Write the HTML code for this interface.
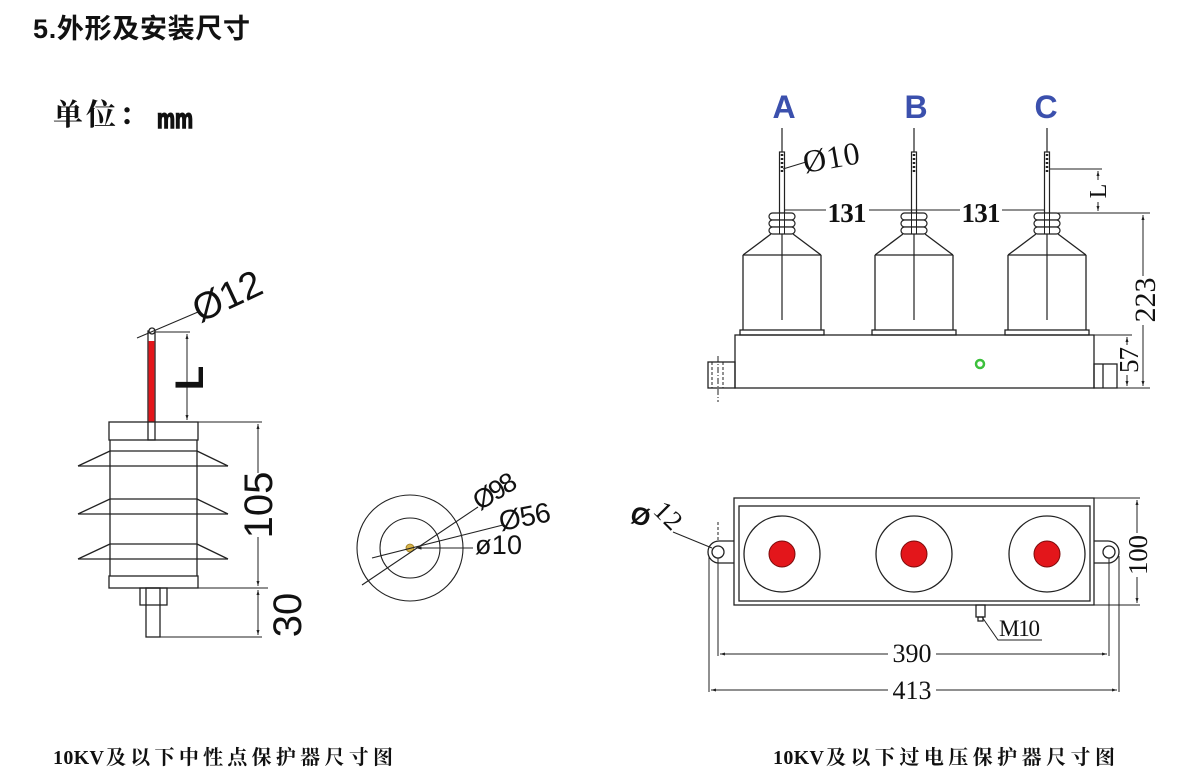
<!DOCTYPE html>
<html><head><meta charset="utf-8">
<style>html,body{margin:0;padding:0;background:#fff}svg{display:block}</style>
</head>
<body>
<svg width="1190" height="781" viewBox="0 0 1190 781" xmlns="http://www.w3.org/2000/svg">
<defs>
<marker id="ar" viewBox="0 0 10 10" refX="10" refY="5" markerWidth="5" markerHeight="5" orient="auto-start-reverse"><path d="M0,2 L10,5 L0,8z" fill="#222"/></marker>
<g id="ph">
  <line x1="0" y1="128" x2="0" y2="152" stroke="#222" stroke-width="1.2"/>
  <rect x="-2.5" y="152" width="5" height="61" fill="#fff" stroke="#222" stroke-width="1.2"/>
  <line x1="0" y1="154" x2="0" y2="172" stroke="#222" stroke-width="2.5" stroke-dasharray="2,2"/>
  <rect x="-13" y="213" width="26" height="7" rx="3.5" fill="#fff" stroke="#222" stroke-width="1.2"/>
  <rect x="-13" y="220" width="26" height="7" rx="3.5" fill="#fff" stroke="#222" stroke-width="1.2"/>
  <rect x="-13" y="227" width="26" height="7" rx="3.5" fill="#fff" stroke="#222" stroke-width="1.2"/>
  <line x1="-2.5" y1="213" x2="-2.5" y2="234" stroke="#222" stroke-width="1"/>
  <line x1="2.5" y1="213" x2="2.5" y2="234" stroke="#222" stroke-width="1"/>
  <line x1="0" y1="234" x2="0" y2="320" stroke="#222" stroke-width="1.2"/>
  <g stroke="#222" stroke-width="1.3" fill="none">
    <line x1="-11" y1="234" x2="-39" y2="255"/>
    <line x1="11" y1="234" x2="39" y2="255"/>
    <line x1="-39" y1="255" x2="39" y2="255"/>
    <line x1="-39" y1="255" x2="-39" y2="330"/>
    <line x1="39" y1="255" x2="39" y2="330"/>
    <rect x="-42" y="330" width="84" height="5"/>
  </g>
</g>
</defs>
<rect width="1190" height="781" fill="#fff"/>

<!-- Title -->
<text x="33" y="38" font-family="Liberation Sans, 'Noto Sans CJK SC', sans-serif" font-weight="bold" font-size="27" textLength="217" fill="#111">5.外形及安装尺寸</text>
<text x="53" y="125" font-family="'Noto Serif CJK SC', serif" font-weight="bold" font-size="30" textLength="96" fill="#111">单位：</text>
<text x="157" y="128" font-family="Liberation Sans, sans-serif" font-weight="bold" font-size="28" textLength="36" lengthAdjust="spacingAndGlyphs" fill="#111" stroke="#111" stroke-width="1.6">mm</text>

<!-- LEFT: neutral point arrester -->
<g stroke="#222" stroke-width="1.3" fill="none">
  <rect x="148" y="331" width="7" height="109" fill="#fff"/>
  <rect x="148.6" y="341" width="5.8" height="81" fill="#e3161b" stroke="none"/>
  <circle cx="152" cy="331" r="3" fill="#fff"/>
  <rect x="109" y="422" width="89" height="18"/>
  <line x1="110" y1="440" x2="110" y2="576"/>
  <line x1="197" y1="440" x2="197" y2="576"/>
  <line x1="110" y1="451" x2="197" y2="451"/>
  <line x1="78" y1="466" x2="228" y2="466"/>
  <line x1="110" y1="451" x2="78" y2="466"/>
  <line x1="197" y1="451" x2="228" y2="466"/>
  <line x1="110" y1="499" x2="197" y2="499"/>
  <line x1="78" y1="514" x2="228" y2="514"/>
  <line x1="110" y1="499" x2="78" y2="514"/>
  <line x1="197" y1="499" x2="228" y2="514"/>
  <line x1="110" y1="544" x2="197" y2="544"/>
  <line x1="78" y1="559" x2="228" y2="559"/>
  <line x1="110" y1="544" x2="78" y2="559"/>
  <line x1="197" y1="544" x2="228" y2="559"/>
  <rect x="109" y="576" width="89" height="12"/>
  <rect x="140" y="588" width="27" height="17"/>
  <rect x="146" y="588" width="14" height="49"/>
</g>
<g stroke="#222" stroke-width="1" fill="none">
  <line x1="198" y1="422" x2="262" y2="422"/>
  <line x1="198" y1="588" x2="268" y2="588"/>
  <line x1="160" y1="637" x2="262" y2="637"/>
  <line x1="155" y1="332" x2="190" y2="332"/>
  <line x1="258" y1="424" x2="258" y2="473" marker-start="url(#ar)"/>
  <line x1="258" y1="537" x2="258" y2="586" marker-end="url(#ar)"/>
  <line x1="258" y1="590" x2="258" y2="635" marker-start="url(#ar)" marker-end="url(#ar)"/>
  <line x1="187" y1="334" x2="187" y2="420" marker-start="url(#ar)" marker-end="url(#ar)"/>
  <line x1="137" y1="338" x2="198" y2="312"/>
</g>
<g font-family="Liberation Sans, sans-serif" fill="#111">
  <text transform="translate(272,505) rotate(-90)" text-anchor="middle" font-size="40">105</text>
  <text transform="translate(301,615) rotate(-90)" text-anchor="middle" font-size="40">30</text>
  <text transform="translate(203,378) rotate(-90)" text-anchor="middle" font-size="40" font-weight="bold">L</text>
  <text transform="translate(200,323) rotate(-25)" font-size="38" textLength="72">Ø12</text>
</g>

<!-- top view circles -->
<g stroke="#222" stroke-width="1.1" fill="none">
  <circle cx="410" cy="548" r="53"/>
  <circle cx="410" cy="548" r="30"/>
  <circle cx="410" cy="548" r="4" fill="#d9b44a" stroke="#9a7a20" stroke-width="0.8"/>
  <line x1="362" y1="585" x2="478" y2="507"/>
  <line x1="372" y1="558" x2="503" y2="525"/>
  <line x1="473" y1="548" x2="416" y2="548" marker-end="url(#ar)"/>
</g>
<g font-family="Liberation Sans, sans-serif" fill="#111">
  <text transform="translate(480,511) rotate(-32)" font-size="27" textLength="46">Ø98</text>
  <text transform="translate(501,531) rotate(-11)" font-size="28" textLength="52">Ø56</text>
  <text x="475" y="554" font-size="27" textLength="47">ø10</text>
</g>

<!-- RIGHT: three phase arrester front view -->
<g font-family="Liberation Sans, sans-serif" font-weight="bold" font-size="32" fill="#3b50ad" text-anchor="middle">
  <text x="784" y="118">A</text>
  <text x="916" y="118">B</text>
  <text x="1046" y="118">C</text>
</g>
<use href="#ph" x="782"/>
<use href="#ph" x="914"/>
<use href="#ph" x="1047"/>
<g stroke="#222" stroke-width="1.3" fill="none">
  <rect x="735" y="335" width="359" height="53"/>
  <rect x="708" y="362" width="27" height="26"/>
  <rect x="1094" y="364" width="23" height="24"/>
  <line x1="1103" y1="364" x2="1103" y2="388"/>
</g>
<g stroke="#222" stroke-width="1" fill="none">
  <line x1="712" y1="362" x2="712" y2="388" stroke-dasharray="3,2"/>
  <line x1="723" y1="362" x2="723" y2="388" stroke-dasharray="3,2"/>
  <line x1="718" y1="356" x2="718" y2="402" stroke-dasharray="6,2,1,2"/>
</g>
<circle cx="980" cy="364" r="4" fill="none" stroke="#3cc03c" stroke-width="2.5"/>
<g stroke="#222" stroke-width="1" fill="none">
  <line x1="785" y1="210" x2="826" y2="210"/>
  <line x1="869" y1="210" x2="960" y2="210"/>
  <line x1="1002" y1="210" x2="1044" y2="210"/>
  <line x1="783" y1="169" x2="806" y2="162"/>
  <line x1="1049" y1="169" x2="1102" y2="169"/>
  <line x1="1098" y1="180" x2="1098" y2="171" marker-end="url(#ar)"/>
  <line x1="1098" y1="202" x2="1098" y2="211" marker-end="url(#ar)"/>
  <line x1="1049" y1="213" x2="1150" y2="213"/>
  <line x1="1143" y1="276" x2="1143" y2="215" marker-end="url(#ar)"/>
  <line x1="1143" y1="325" x2="1143" y2="386" marker-end="url(#ar)"/>
  <line x1="1094" y1="335" x2="1132" y2="335"/>
  <line x1="1127" y1="345" x2="1127" y2="337" marker-end="url(#ar)"/>
  <line x1="1127" y1="375" x2="1127" y2="386" marker-end="url(#ar)"/>
  <line x1="1094" y1="388" x2="1150" y2="388"/>
</g>
<g font-family="Liberation Serif, serif" fill="#111">
  <text x="847" y="222" text-anchor="middle" font-size="27" font-weight="bold" textLength="39">131</text>
  <text x="981" y="222" text-anchor="middle" font-size="27" font-weight="bold" textLength="39">131</text>
  <text transform="translate(805,173) rotate(-10)" font-size="32" textLength="57">Ø10</text>
  <text transform="translate(1106,191) rotate(-90)" text-anchor="middle" font-size="24">L</text>
  <text transform="translate(1155,300) rotate(-90)" text-anchor="middle" font-size="30" textLength="45">223</text>
  <text transform="translate(1138,360) rotate(-90)" text-anchor="middle" font-size="27" textLength="26">57</text>
</g>

<!-- RIGHT: bottom view -->
<g stroke="#222" stroke-width="1.3" fill="none">
  <rect x="734" y="498" width="360" height="107"/>
  <rect x="739" y="506" width="351" height="95"/>
  <circle cx="782" cy="554" r="38"/>
  <circle cx="914" cy="554" r="38"/>
  <circle cx="1047" cy="554" r="38"/>
  <path d="M734,541 H719 A11,11 0 0 0 719,563 H734"/>
  <path d="M1094,541 H1108 A11,11 0 0 1 1108,563 H1094"/>
  <circle cx="718" cy="552" r="6"/>
  <circle cx="1109" cy="552" r="6"/>
  <rect x="976" y="605" width="9" height="12"/>
  <rect x="978" y="617" width="5" height="4"/>
</g>
<g fill="#e3161b" stroke="#7a0a0a" stroke-width="1">
  <circle cx="782" cy="554" r="13"/>
  <circle cx="914" cy="554" r="13"/>
  <circle cx="1047" cy="554" r="13"/>
</g>
<g stroke="#222" stroke-width="1" fill="none">
  <line x1="718" y1="522" x2="718" y2="542" stroke-dasharray="3,2"/>
  <line x1="673" y1="532" x2="712" y2="548"/>
  <line x1="718" y1="558" x2="718" y2="656"/>
  <line x1="1109" y1="558" x2="1109" y2="656"/>
  <line x1="709" y1="556" x2="709" y2="692"/>
  <line x1="1119" y1="556" x2="1119" y2="692"/>
  <line x1="888" y1="654" x2="720" y2="654" marker-end="url(#ar)"/>
  <line x1="936" y1="654" x2="1107" y2="654" marker-end="url(#ar)"/>
  <line x1="888" y1="690" x2="711" y2="690" marker-end="url(#ar)"/>
  <line x1="936" y1="690" x2="1117" y2="690" marker-end="url(#ar)"/>
  <line x1="1094" y1="498" x2="1140" y2="498"/>
  <line x1="1094" y1="605" x2="1140" y2="605"/>
  <line x1="1137" y1="533" x2="1137" y2="500" marker-end="url(#ar)"/>
  <line x1="1137" y1="577" x2="1137" y2="603" marker-end="url(#ar)"/>
  <polyline points="982,617 998,640 1042,640"/>
</g>
<g font-family="Liberation Serif, serif" fill="#111">
  <text transform="translate(629,522) rotate(15)" font-family="Liberation Sans, sans-serif" font-size="25" font-weight="bold">Ø</text>
  <text transform="translate(652,512) rotate(45)" font-size="27" textLength="28">12</text>
  <text x="912" y="662" text-anchor="middle" font-size="26" textLength="39">390</text>
  <text x="912" y="699" text-anchor="middle" font-size="26" textLength="39">413</text>
  <text transform="translate(1147,555) rotate(-90)" text-anchor="middle" font-size="27" textLength="40">100</text>
  <text x="999" y="636" font-size="23" textLength="41">M10</text>
</g>

<!-- Captions -->
<g font-family="Liberation Serif, 'Noto Serif CJK SC', serif" font-weight="bold" font-size="20" fill="#111">
  <text x="53" y="764" textLength="51">10KV</text>
  <text x="106" y="764" textLength="287">及以下中性点保护器尺寸图</text>
  <text x="773" y="764" textLength="51">10KV</text>
  <text x="826" y="764" textLength="289">及以下过电压保护器尺寸图</text>
</g>
</svg>
</body>
</html>
